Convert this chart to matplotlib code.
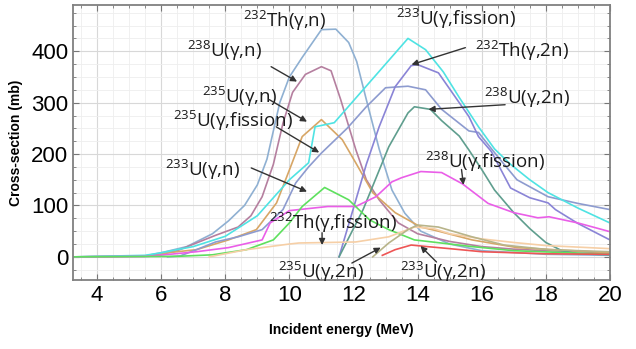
import matplotlib
matplotlib.use("Agg")
import matplotlib.pyplot as plt
from matplotlib.ticker import MultipleLocator
import numpy as np

plt.rcParams['font.family'] = ['Open Sans', 'DejaVu Sans']
plt.rcParams['mathtext.fontset'] = 'custom'
plt.rcParams['mathtext.rm'] = 'Open Sans'
plt.rcParams['mathtext.it'] = 'Open Sans:italic'
plt.rcParams['mathtext.bf'] = 'Open Sans:bold'

# ---- data (E in MeV, sigma in mb) ----
th232_n_e = [3.25, 5.5, 6.0, 6.8, 7.6, 8.1, 8.6, 9.0, 9.3, 9.7, 10.0, 10.4, 10.7, 11.0, 11.45, 11.85, 12.1, 12.4, 12.8, 13.2, 13.6, 14.1, 15.0, 16.0, 18.0, 20.0]
th232_n_s = [0, 2, 8, 20, 45, 70, 100, 140, 190, 300, 350, 388, 415, 442, 443, 417, 380, 306, 210, 130, 85, 50, 25, 12, 5, 3]

u238_n_e = [3.25, 5.5, 6.0, 6.5, 7.1, 7.7, 8.4, 8.8, 9.15, 9.5, 9.8, 10.1, 10.5, 11.0, 11.3, 11.6, 12.07, 12.4, 12.8, 13.4, 14.0, 15.0, 16.0, 17.0, 18.0, 20.0]
u238_n_s = [0, 1, 5, 12, 27, 42, 58, 80, 117, 180, 260, 320, 355, 370, 362, 306, 209, 150, 111, 66, 45, 30, 20, 15, 12, 8]

u235_n_e = [3.25, 5.8, 6.2, 7.1, 8.1, 8.97, 9.6, 10.0, 10.4, 11.0, 11.65, 12.07, 12.6, 13.3, 14.1, 14.65, 15.7, 17.1, 20.0]
u235_n_s = [0, 2, 8, 14, 33, 53, 105, 169, 234, 267, 228, 183, 125, 86, 58, 50, 33, 18, 8]

u235_f_e = [6.2, 6.6, 7.1, 7.7, 8.4, 9.15, 9.8, 10.2, 10.6, 11.0, 11.8, 12.4, 13.0, 13.7, 14.25, 14.75, 15.6, 15.9, 16.5, 17.1, 18.07, 19.0, 20.0]
u235_f_s = [0, 2, 14, 29, 39, 53, 92, 144, 175, 202, 250, 292, 329, 332, 325, 287, 245, 242, 195, 150, 117, 104, 92]

u233_f_e = [3.25, 5.5, 6.0, 7.0, 8.0, 9.0, 9.5, 10.0, 10.6, 10.8, 11.4, 12.2, 13.0, 13.7, 14.25, 14.8, 15.3, 15.9, 16.4, 16.9, 17.5, 18.07, 19.0, 20.0]
u233_f_s = [0, 3, 8, 20, 40, 80, 115, 150, 183, 253, 261, 318, 375, 425, 403, 360, 310, 253, 210, 180, 150, 125, 95, 66]

th232_2n_e = [11.55, 12.0, 12.4, 12.8, 13.3, 13.8, 14.0, 14.65, 15.6, 15.9, 16.3, 16.9, 17.5, 18.07, 18.3, 19.0, 20.0]
th232_2n_s = [0, 95, 180, 253, 331, 372, 374, 358, 273, 234, 205, 134, 115, 105, 92, 65, 33]

u238_2n_e = [11.55, 12.3, 13.1, 13.7, 13.9, 14.4, 14.75, 15.3, 15.6, 16.0, 16.4, 17.0, 17.5, 18.0, 18.5, 19.0, 20.0]
u238_2n_s = [0, 92, 214, 280, 292, 287, 265, 235, 208, 170, 130, 86, 55, 28, 12, 6, 4]

u238_f_e = [3.25, 5.6, 7.1, 8.1, 9.15, 9.4, 10.0, 11.2, 12.07, 12.7, 13.2, 13.5, 14.1, 14.75, 15.4, 16.2, 17.0, 17.75, 18.1, 19.0, 20.0]
u238_f_s = [0, 1, 10, 18, 33, 66, 90, 98, 98, 117, 146, 154, 166, 164, 142, 104, 86, 76, 78, 66, 49]

u233_n_e = [3.25, 6.5, 7.6, 8.66, 9.5, 10.0, 10.4, 11.1, 11.85, 12.5, 13.1, 13.9, 15.7, 17.0, 20.0]
u233_n_s = [0, 1, 4, 14, 33, 66, 98, 135, 111, 72, 53, 33, 20, 12, 5]

th232_f_e = [7.5, 8.66, 10.0, 10.3, 12.07, 13.1, 13.9, 14.5, 15.0, 16.0, 17.0, 18.0, 20.0]
th232_f_s = [0, 14, 25, 27, 29, 39, 58, 55, 45, 35, 28, 22, 16]

u235_2n_e = [12.6, 13.1, 13.7, 14.0, 14.65, 15.7, 16.7, 18.1, 20.0]
u235_2n_s = [0, 27, 53, 62, 58, 39, 23, 14, 10]

u233_2n_e = [12.9, 13.3, 13.8, 14.3, 15.0, 16.0, 18.0, 20.0]
u233_2n_s = [3, 14, 23, 20, 16, 10, 6, 5]

series = [
    (th232_n_e, th232_n_s, '#8fb0d2'),
    (u238_n_e, u238_n_s, '#b57f9f'),
    (u235_n_e, u235_n_s, '#d7a666'),
    (u235_f_e, u235_f_s, '#8d9bcf'),
    (u233_f_e, u233_f_s, '#4fe3e3'),
    (th232_2n_e, th232_2n_s, '#8a84d6'),
    (u238_2n_e, u238_2n_s, '#5f9e8e'),
    (u238_f_e, u238_f_s, '#ea5ee8'),
    (u233_n_e, u233_n_s, '#5ee05e'),
    (th232_f_e, th232_f_s, '#f6cfa6'),
    (u235_2n_e, u235_2n_s, '#b8b48a'),
    (u233_2n_e, u233_2n_s, '#ee5555'),
]

# label text, text position, arrow start, arrow tip (None = no arrow)
labels = [
    (r'$^{232}$Th(γ,n)', (9.85, 458), None, None),
    (r'$^{238}$U(γ,n)', (7.97, 400), (9.43, 370), (10.24, 341)),
    (r'$^{235}$U(γ,n)', (8.45, 312), (9.37, 306), (10.55, 263)),
    (r'$^{235}$U(γ,fission)', (8.25, 265), (9.59, 253), (10.93, 203)),
    (r'$^{233}$U(γ,n)', (7.3, 170), (8.81, 173), (10.55, 127)),
    (r'$^{232}$Th(γ,fission)', (11.35, 66), (11.02, 47), (11.02, 23)),
    (r'$^{235}$U(γ,2n)', (11.0, -29), (11.95, -12), (12.85, 18)),
    (r'$^{233}$U(γ,2n)', (14.8, -29), (14.59, -10), (14.09, 21)),
    (r'$^{233}$U(γ,fission)', (15.2, 462), None, None),
    (r'$^{232}$Th(γ,2n)', (17.25, 400), (15.49, 407), (13.81, 374)),
    (r'$^{238}$U(γ,2n)', (17.4, 310), (16.73, 296), (14.34, 287)),
    (r'$^{238}$U(γ,fission)', (16.1, 185), (15.37, 170), (15.43, 140)),
]

fig = plt.figure(figsize=(6.36, 3.49), dpi=100)
ax = fig.add_axes([0.1148, 0.1977, 0.8442, 0.788])

for e, s, c in series:
    ax.plot(e, s, color=c, lw=1.2)

for txt, pos, start, tip in labels:
    ax.text(pos[0], pos[1], txt, fontsize=13.5, ha='center', va='center', color='#1a1a1a')
    if tip is not None:
        ax.annotate('', xy=tip, xytext=start,
                    arrowprops=dict(arrowstyle='-|>', color='#333333', lw=1.0,
                                    mutation_scale=9, shrinkA=0, shrinkB=0))

ax.set_xlim(3.25, 20)
ax.set_ylim(-45, 490)
ax.xaxis.set_major_locator(MultipleLocator(2))
ax.xaxis.set_minor_locator(MultipleLocator(0.5))
ax.yaxis.set_major_locator(MultipleLocator(100))
ax.yaxis.set_minor_locator(MultipleLocator(25))
ax.grid(which='major', color='#d8d8d8', lw=0.8)
ax.grid(which='minor', color='#eeeeee', lw=0.6)
ax.set_axisbelow(True)
ax.tick_params(which='both', direction='in', top=True, right=True, color='#777777')
ax.tick_params(which='major', length=4, labelsize=16)
ax.tick_params(which='minor', length=2)
for lab in ax.get_xticklabels() + ax.get_yticklabels():
    lab.set_family(['Liberation Sans Narrow', 'Liberation Sans'])
for sp in ax.spines.values():
    sp.set_color('#808080')
    sp.set_linewidth(1.3)

ax.set_xlabel('Incident energy (MeV)', fontsize=10, fontweight='bold',
              family=['Liberation Sans', 'DejaVu Sans'], labelpad=12)
ax.set_ylabel('Cross-section (mb)', fontsize=10, fontweight='bold',
              family=['Liberation Sans', 'DejaVu Sans'], labelpad=6)

fig.savefig('out.png', dpi=100)
